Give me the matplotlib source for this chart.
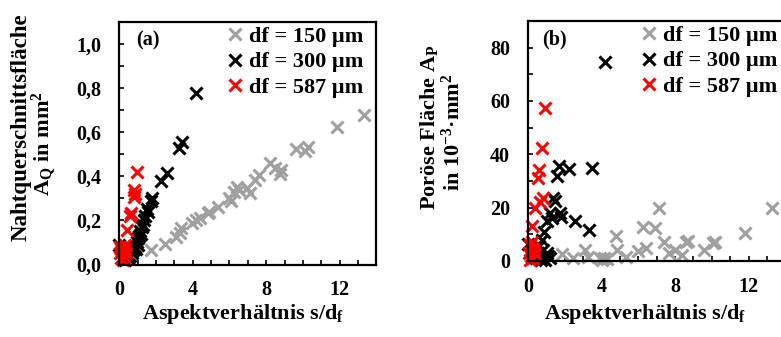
import matplotlib
matplotlib.use("Agg")
import matplotlib.pyplot as plt
from matplotlib.ticker import MultipleLocator, FuncFormatter

plt.rcParams['font.family'] = ['Liberation Serif', 'DejaVu Serif']
plt.rcParams['font.weight'] = 'bold'
plt.rcParams['mathtext.default'] = 'regular'

# ---- data (a): Nahtquerschnittsflaeche ----
a150_x = [1.75, 2.5, 3.1, 3.3, 3.35, 3.95, 4.2, 4.4, 4.85, 4.9, 5.4, 6.0, 6.1, 6.25, 6.4,
          6.5, 6.95, 7.1, 7.4, 7.6, 8.2, 8.5, 8.75, 8.8, 9.6, 10.1, 10.3, 11.85, 13.35]
a150_y = [0.065, 0.095, 0.125, 0.145, 0.165, 0.19, 0.20, 0.21, 0.235, 0.24, 0.26, 0.30, 0.29,
          0.33, 0.35, 0.34, 0.345, 0.325, 0.385, 0.405, 0.46, 0.44, 0.41, 0.43, 0.525, 0.515,
          0.535, 0.625, 0.68]
a300_x = [0.0, 0.3, 0.5, 0.6, 0.7, 0.75, 0.85, 0.9, 0.95, 1.0, 1.05, 1.1, 1.15, 1.2, 1.25,
          1.3, 1.35, 1.4, 1.5, 1.55, 1.75, 1.8, 2.3, 2.6, 3.25, 3.4, 4.2]
a300_y = [0.09, 0.02, 0.03, 0.04, 0.05, 0.065, 0.08, 0.07, 0.10, 0.09, 0.12, 0.13, 0.15, 0.14,
          0.17, 0.18, 0.20, 0.22, 0.25, 0.24, 0.29, 0.30, 0.38, 0.415, 0.53, 0.555, 0.78]
a587_x = [0.95, 0.8, 0.85, 0.78, 0.65, 0.6, 0.42, 0.3, 0.2, 0.1, 0.05, 0.15, 0.25, 0.35,
          0.1, 0.2, 0.05, 0.3]
a587_y = [0.42, 0.34, 0.32, 0.305, 0.235, 0.22, 0.155, 0.09, 0.08, 0.07, 0.05, 0.06, 0.04,
          0.05, 0.03, 0.02, 0.08, 0.07]

# ---- data (b): Poroese Flaeche ----
b150_x = [1.85, 2.45, 3.1, 3.25, 3.9, 4.0, 4.15, 4.3, 4.8, 4.85, 5.35, 6.0, 6.25, 6.4, 6.9,
          7.1, 7.4, 7.65, 8.0, 8.35, 8.6, 8.7, 9.55, 10.05, 10.15, 11.8, 13.3]
b150_y = [2.5, 1.2, 4.0, 1.5, 1.0, 0.5, 1.2, 0.8, 9.2, 4.2, 1.6, 3.8, 12.9, 4.8, 12.3,
          20.0, 7.3, 2.9, 4.2, 2.3, 7.0, 7.6, 4.2, 6.7, 7.3, 10.6, 20.0]
b300_x = [0.0, 0.4, 0.5, 0.55, 0.6, 0.65, 0.75, 0.8, 0.85, 0.9, 1.0, 1.1, 1.2, 1.3, 1.35,
          1.45, 1.55, 1.65, 1.75, 1.8, 2.2, 2.55, 3.3, 3.45, 4.2, 0.7, 1.0, 1.2]
b300_y = [6.5, 1, 2, 3, 5.5, 1.5, 8, 4, 11, 0.5, 15, 2, 18, 16, 23.5,
          22.5, 32, 35.5, 18, 16.5, 34.5, 15, 11.5, 35, 74.5, 0.5, 3, 1]
b587_x = [0.9, 0.75, 0.6, 0.55, 0.8, 0.65, 0.37, 0.18, 0.1, 0.2, 0.3, 0.05, 0.15, 0.25,
          0.1, 0.2, 0.35]
b587_y = [57.5, 42.5, 34, 31, 23.5, 22, 20, 13, 6, 5, 4, 3, 2, 1, 0.5, 7, 2.5]

labels = ['df = 150 µm', 'df = 300 µm', 'df = 587 µm']
colors = ['#a0a0a0', 'black', 'red']

W, H = 781, 337
fig = plt.figure(figsize=(W / 100, H / 100), dpi=100)

def px_axes(x0, x1, y0, y1):
    # pixel box -> figure fraction
    return fig.add_axes([x0 / W, 1 - y1 / H, (x1 - x0) / W, (y1 - y0) / H])

ax1 = px_axes(119.2, 376.4, 22, 264.5)
ax2 = px_axes(528.3, 785.2, 21, 261)

def style(ax, ymaj, ymin, fmt):
    for s in ax.spines.values():
        s.set_linewidth(1.6)
    ax.set_xlim(0, 14)
    ax.xaxis.set_major_locator(MultipleLocator(4))
    ax.xaxis.set_minor_locator(MultipleLocator(1))
    ax.yaxis.set_major_locator(MultipleLocator(ymaj))
    ax.yaxis.set_minor_locator(MultipleLocator(ymin))
    ax.yaxis.set_major_formatter(FuncFormatter(fmt))
    ax.tick_params(which='both', direction='in', length=3.8, width=1.2,
                   top=False, right=False, labelsize=14.5)
    ax.tick_params(axis='x', which='major', pad=11.5)
    ax.tick_params(axis='y', which='major', pad=13)

def draw(ax, xs, ys, anchor_x):
    for x, y, lab, c in zip(xs, ys, labels, colors):
        ax.plot(x, y, linestyle='none', marker='x', ms=8.5, mew=2.2, color=c,
                label=lab, clip_on=False)
    ax.legend(loc='upper right', bbox_to_anchor=(anchor_x, 1.0), frameon=False,
              fontsize=16, handlelength=0.6, handletextpad=0.3, labelspacing=0.22,
              borderaxespad=0.0, borderpad=0.2)

draw(ax1, [a150_x, a300_x, a587_x], [a150_y, a300_y, a587_y], 0.965)
style(ax1, 0.2, 0.1, lambda v, p: f"{v:.1f}".replace('.', ','))
ax1.set_ylim(0, 1.1)

draw(ax2, [b150_x, b300_x, b587_x], [b150_y, b300_y, b587_y], 0.985)
style(ax2, 20, 10, lambda v, p: f"{v:.0f}")
ax2.set_ylim(0, 90)

ax1.text(0.065, 0.925, '(a)', transform=ax1.transAxes, fontsize=14.5, va='center', ha='left')
ax2.text(0.055, 0.925, '(b)', transform=ax2.transAxes, fontsize=14.5, va='center', ha='left')

def ftext(x, y, s, size=16, **kw):
    fig.text(x / W, 1 - y / H, s, fontsize=size, **kw)

ftext(21, 127, 'Nahtquerschnittsfläche', rotation=90, ha='center', va='center', size=16.5)
ftext(44, 144, 'A$_\\mathregular{Q}$ in mm$^\\mathregular{2}$', rotation=90, ha='center', va='center')
ftext(429, 127, 'Poröse Fläche A$_\\mathregular{P}$', rotation=90, ha='center', va='center')
ftext(453, 132, 'in 10$^\\mathregular{-3}$·mm$^\\mathregular{2}$', rotation=90, ha='center', va='center')
ftext(243, 318.5, 'Aspektverhältnis s/d$_\\mathregular{f}$', ha='center', va='baseline', size=16)
ftext(645, 318.5, 'Aspektverhältnis s/d$_\\mathregular{f}$', ha='center', va='baseline', size=16)

fig.savefig('out.png', dpi=100)
